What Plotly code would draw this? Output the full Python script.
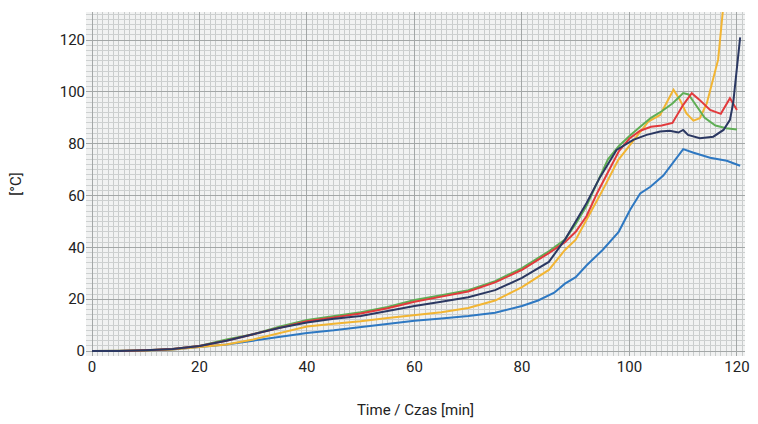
import plotly.graph_objects as go

# ---- data ----
green_t = [0,5,10,15,20,25,30,35,40,45,50,55,60,65,70,75,80,85,88,90,92,94,96,98,100,102,104,106,108,110,111,112,114,116,118,120]
green_y = [0,0,0.3,0.8,2,4.5,6.5,9.5,12,13.5,15,17,19.7,21.5,23.5,27,32,38.5,43,49,56,65,74,79,83,86.5,90,92.5,95.5,99.5,99,96,90,87,86,85.5]

red_t = [0,5,10,15,20,25,30,35,40,45,50,55,60,65,70,75,80,85,88,90,92,94,96,98,100,102,104,106,108,110,111.6,113,115,117,118.7,120]
red_y = [0,0,0.3,0.8,2,4,6.5,9,11.5,13,14.5,16.5,19,21,23,26.5,31.3,37.8,42,46,52,61,69,77,82,85,86.5,87,88,95,99.5,97,93,91.5,97.5,93]

navy_t = [0,5,10,15,20,25,30,35,40,45,50,55,60,65,70,75,80,85,88,90,92,94.5,97.6,100.7,103.2,105.7,107.5,109.1,110,110.9,113.1,115.6,117.5,118.7,119.3,120.6]
navy_y = [0,0,0.3,0.8,2,4,6.5,9,11,12.5,13.5,15.5,17.4,19,20.8,23.5,28.2,34.4,43,50,57,67,77.6,81.5,83.4,84.7,85,84.3,85.3,83.4,82.1,82.7,85.3,89.2,95.7,121]

yellow_t = [0,5,10,15,20,25,30,35,40,45,50,55,60,65,70,75,80,85,88,90,93,95,97.9,101.3,103.5,105.7,106.9,108.2,109.4,110.6,111.9,113.1,114.4,115.6,116.5,117.4,118]
yellow_y = [0,0,0.2,0.6,1.5,2.5,4.5,7,9.5,10.5,11.5,12.8,13.9,15,16.6,19.5,24.7,31.3,39,43,54.4,62,73.7,82.7,88.5,91.1,95.6,100.8,96.9,91.7,88.9,89.8,95.6,104.6,112.4,131.7,140]

blue_t = [0,5,10,15,20,25,30,35,40,45,50,55,60,65,70,75,80,83,85,86,88,90,92,95,98,100.1,102,103.9,106.3,108.2,110,111.8,115,118.1,120.6]
blue_y = [0,0,0.2,0.6,1.5,2.5,4,5.5,7,8,9.3,10.5,11.7,12.6,13.5,14.8,17.4,19.5,21.5,22.5,26,28.5,33,39,46,54.4,60.8,63.4,67.7,72.8,77.9,76.6,74.6,73.4,71.5]

x_ticks = [0, 20, 40, 60, 80, 100, 120]
y_ticks = [0, 20, 40, 60, 80, 100, 120]

series = [
    (blue_t, blue_y, "#2e78c2"),
    (yellow_t, yellow_y, "#f2b533"),
    (green_t, green_y, "#5fae55"),
    (red_t, red_y, "#e23a3c"),
    (navy_t, navy_y, "#2b3862"),
]

fig = go.Figure()
for t, y, c in series:
    fig.add_trace(go.Scatter(x=t, y=y, mode="lines", line=dict(color=c, width=2),
                             showlegend=False, hoverinfo="skip"))

font = "Roboto, 'Open Sans', sans-serif"
fig.update_layout(
    width=758, height=424,
    margin=dict(l=86, r=13, t=12, b=68),
    paper_bgcolor="white",
    plot_bgcolor="#f1f2f2",
    font=dict(family=font, size=15, color="#222222"),
    xaxis=dict(range=[-1.12, 121.5], tickvals=x_ticks, ticks="", showline=False,
               automargin=False, zeroline=False, gridcolor="#a3a7a7", gridwidth=1,
               minor=dict(dtick=1, tick0=0, showgrid=True, gridcolor="#c9cccc", gridwidth=1),
               title=dict(text="Time / Czas [min]", standoff=29, font=dict(size=15))),
    yaxis=dict(range=[-1.9, 130.8], tickvals=y_ticks, ticks="", showline=False,
               automargin=False, zeroline=False, gridcolor="#a3a7a7", gridwidth=1,
               minor=dict(dtick=2, tick0=0, showgrid=True, gridcolor="#cdd0d0", gridwidth=1),
               title=dict(text="[°C]", standoff=34, font=dict(size=15))),
)

fig.write_html("out.html", config={"displayModeBar": False},
               post_script="document.body.style.margin='0';")
